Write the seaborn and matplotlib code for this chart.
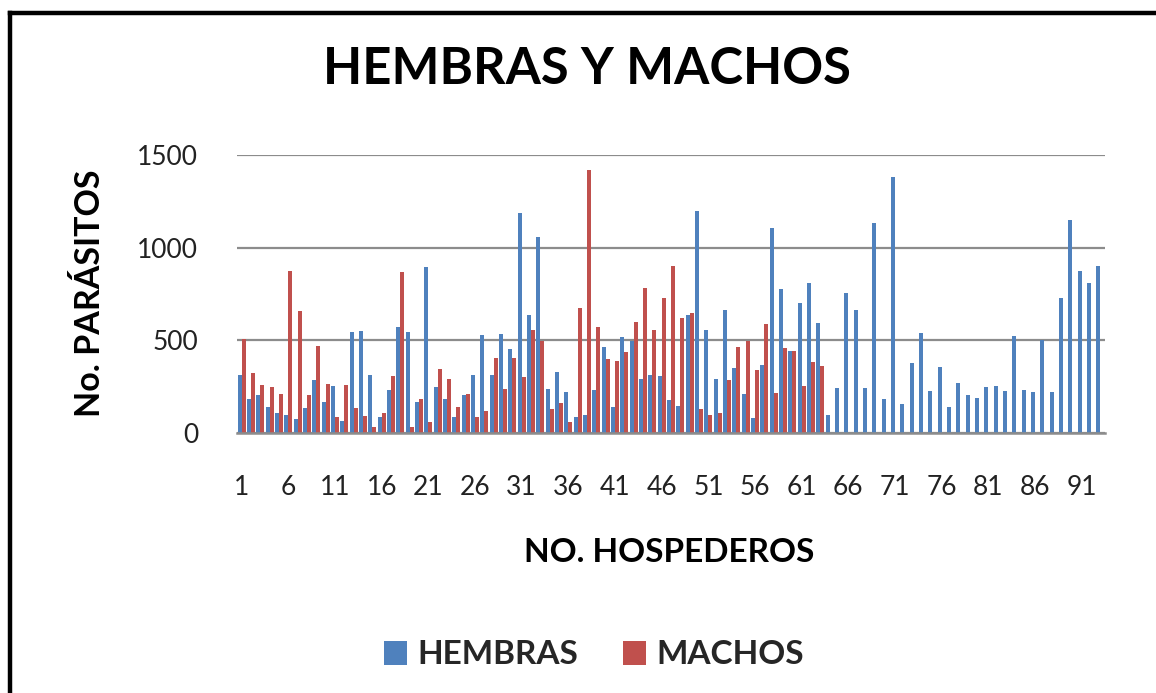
import numpy as np
import pandas as pd
import matplotlib
matplotlib.use("Agg")
import matplotlib.pyplot as plt
from matplotlib.lines import Line2D
from matplotlib.patches import Patch
import seaborn as sns

# Host numbers (categories on the x axis)
hospederos = list(range(1, 94))

# Parasite counts per host: females (all 93 hosts)
hembras = [314, 185, 203, 140, 108, 99, 77, 135, 285, 167,
           251, 66, 544, 553, 311, 84, 233, 571, 544, 165,
           894, 248, 183, 84, 206, 314, 530, 314, 535, 454,
           1185, 637, 1059, 239, 328, 221, 88, 99, 233, 463,
           140, 517, 499, 293, 314, 305, 176, 144, 634, 1197,
           556, 293, 664, 350, 210, 81, 368, 1104, 777, 440,
           704, 808, 596, 99, 242, 757, 664, 242, 1134, 183,
           1382, 156, 377, 542, 224, 355, 140, 269, 206, 188,
           248, 251, 224, 521, 233, 221, 503, 219, 727, 1149,
           876, 808, 901]

# Parasite counts per host: males (first 63 hosts)
machos = [508, 323, 257, 248, 212, 876, 660, 203, 472, 266,
          84, 257, 135, 92, 31, 108, 309, 871, 32, 185,
          57, 343, 293, 138, 210, 84, 120, 404, 239, 404,
          302, 556, 499, 129, 162, 59, 677, 1418, 574, 400,
          389, 436, 598, 781, 556, 730, 901, 619, 650, 131,
          99, 108, 284, 463, 494, 341, 587, 215, 461, 440,
          251, 382, 359]

series_names = ["HEMBRAS", "MACHOS"]
colors = ["#4F81BD", "#C0504D"]
y_ticks = [0, 500, 1000, 1500]
x_tick_labels = ["1", "6", "11", "16", "21", "26", "31", "36", "41", "46",
                 "51", "56", "61", "66", "71", "76", "81", "86", "91"]

rows = []
for h, v in zip(hospederos, hembras):
    rows.append({"host": str(h), "sexo": series_names[0], "n": v})
for h, v in zip(hospederos, machos):
    rows.append({"host": str(h), "sexo": series_names[1], "n": v})
df = pd.DataFrame(rows)

sns.set_theme(style="white")
font = ["Lato", "DejaVu Sans"]
plt.rcParams["font.family"] = font

fig = plt.figure(figsize=(11.56, 6.93), dpi=100)
ax = fig.add_axes([237 / 1156, 1 - 433 / 693, (1105 - 237) / 1156, (433 - 155) / 693])

sns.barplot(data=df, x="host", y="n", hue="sexo",
            order=[str(h) for h in hospederos], hue_order=series_names,
            palette=colors, width=0.84, gap=0.0, saturation=1,
            dodge=True, ax=ax, legend=False, errorbar=None,
            edgecolor="none", linewidth=0)

ax.set_xlim(-0.5, len(hospederos) - 0.5)
ax.set_ylim(0, 1500)
ax.set_yticks(y_ticks)
ax.set_yticklabels([str(t) for t in y_ticks], fontsize=19, color="#222222")
ax.set_xticks([hospederos.index(int(s)) for s in x_tick_labels])
ax.set_xticklabels(x_tick_labels, fontsize=19, color="#222222")
ax.tick_params(axis="both", length=0)
ax.tick_params(axis="x", pad=30)
ax.tick_params(axis="y", pad=28)

ax.grid(axis="y", color="#8C8C8C", linewidth=1.6)
ax.set_axisbelow(True)
for side in ["top", "right", "left"]:
    ax.spines[side].set_visible(False)
ax.spines["bottom"].set_color("#8C8C8C")
ax.spines["bottom"].set_linewidth(1.8)

ax.set_xlabel("")
ax.set_ylabel("")

fig.text(587 / 1156, 1 - 70 / 693, "HEMBRAS Y MACHOS", ha="center", va="center",
         fontsize=36.5, fontweight="bold", color="black")
fig.text(90 / 1156, 1 - 293 / 693, "No. PARÁSITOS", ha="center", va="center",
         rotation=90, fontsize=24.5, fontweight="bold", color="black")
fig.text(669 / 1156, 1 - 553 / 693, "NO. HOSPEDEROS", ha="center", va="center",
         fontsize=24, fontweight="bold", color="black")

handles = [Patch(facecolor=c, edgecolor="none") for c in colors]
fig.legend(handles, series_names, loc="center", bbox_to_anchor=(594 / 1156, 1 - 655 / 693),
           ncol=2, frameon=False, prop={"family": font, "weight": "bold", "size": 24},
           handlelength=0.7, handleheight=0.7, handletextpad=0.3, columnspacing=1.35)

# Outer frame (left and top edges)
fig.add_artist(Line2D([9.5 / 1156, 9.5 / 1156], [0, 1 - 12.5 / 693],
                      transform=fig.transFigure, color="black", linewidth=3.2,
                      solid_capstyle="projecting"))
fig.add_artist(Line2D([9.5 / 1156, 1], [1 - 12.5 / 693, 1 - 12.5 / 693],
                      transform=fig.transFigure, color="black", linewidth=3.2,
                      solid_capstyle="projecting"))

fig.savefig("out.png", dpi=100)
